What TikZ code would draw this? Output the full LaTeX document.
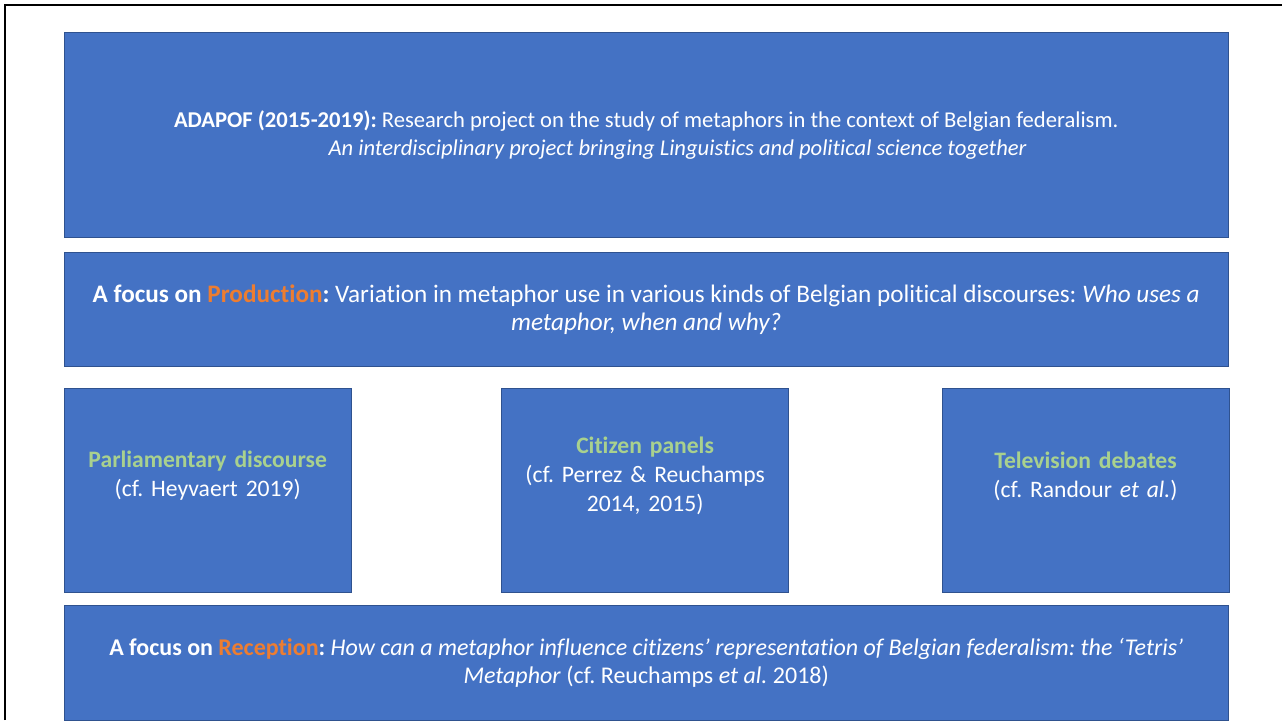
\documentclass[tikz,border=0pt]{standalone}
\usepackage{fontspec}
\setmainfont{Carlito}[Ligatures=NoCommon, RawFeature={-calt}]
\frenchspacing
\usetikzlibrary{positioning}
\definecolor{boxblue}{HTML}{4472C4}
\definecolor{boxedge}{HTML}{2F528F}
\definecolor{hlorange}{HTML}{ED7D31}
\definecolor{hlgreen}{HTML}{A9D18E}
\tikzstyle{band} = [rectangle, minimum width=1164pt, draw=boxedge, fill=boxblue, inner sep=0pt, text=white, align=center]
\tikzstyle{panel} = [rectangle, minimum width=287pt, minimum height=204pt, draw=boxedge, fill=boxblue, inner sep=0pt]
\tikzstyle{paneltext} = [text=white, align=center, text width=280pt, font=\fontsize{23.6}{29}\selectfont]

\begin{document}
\begin{tikzpicture}[x=1pt, y=-1pt]
\useasboundingbox (0,0) rectangle (1282,720);

% slide frame
\draw[line width=2.8pt] (5,720) -- (5,5) -- (1282,5);

% Nodes
\node (project) [band, minimum height=205pt, anchor=north west, font=\fontsize{22.6}{28}\selectfont] at (64,32)
  {\textbf{ADAPOF (2015-2019):} Research project on the study of metaphors in the context of Belgian federalism.\\
   \hspace*{63pt}\textit{An interdisciplinary project bringing Linguistics and political science together}};
\node (production) [band, minimum height=114pt, below=15pt of project, font=\fontsize{25.2}{28}\selectfont]
  {\textbf{A focus on \textcolor{hlorange}{Production}:} Variation in metaphor use in various kinds of Belgian political discourses: \textit{Who uses a}\\
   \textit{metaphor, when and why?}};

\node (parl) [panel, below right=21pt and 0pt of production.south west] {};
\node (citizen) [panel, right=150pt of parl] {};
\node (tv) [panel, right=153pt of citizen] {};

\node (parltxt) [paneltext] at ([yshift=14pt]parl.center)
  {\textbf{\textcolor{hlgreen}{Parliamentary discourse}}\\(cf. Heyvaert 2019)};
\node (citizentxt) [paneltext] at ([yshift=14pt]citizen.center)
  {\textbf{\textcolor{hlgreen}{Citizen panels}}\\(cf. Perrez \& Reuchamps\\2014, 2015)};
\node (tvtxt) [paneltext] at ([yshift=14pt]tv.center)
  {\textbf{\textcolor{hlgreen}{Television debates}}\\(cf. Randour \textit{et al.})};

\node (reception) [band, minimum height=115pt, below right=13pt and 0pt of parl.south west, font=\fontsize{24}{28}\selectfont]
  {\textbf{A focus on \textcolor{hlorange}{Reception}:} \textit{How can a metaphor influence citizens' representation of Belgian federalism: the `Tetris'}\\
   \textit{Metaphor} (cf. Reuchamps \textit{et al.} 2018)};

\end{tikzpicture}
\end{document}
